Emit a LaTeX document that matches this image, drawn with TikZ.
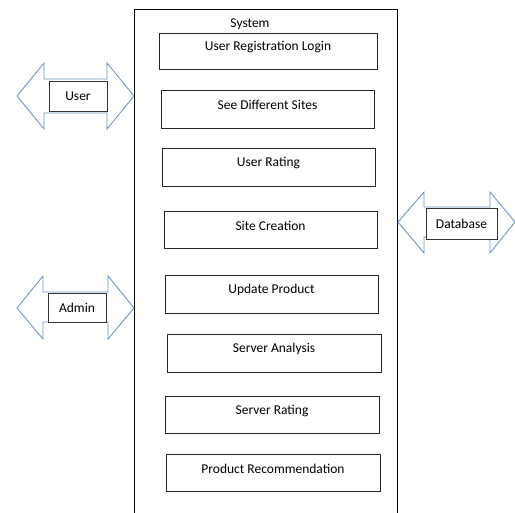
\documentclass[tikz,border=0pt]{standalone}
\usepackage{fontspec}
\setmainfont{Carlito}
\begin{document}
\begin{tikzpicture}[x=1pt,y=-1pt,
  usecase/.style={draw=black!85,line width=0.9pt,inner sep=0pt},
  actor/.style={draw=black!80,line width=0.9pt,fill=white,inner sep=0pt},
  dblarrow/.style={draw=arrowblue,line width=0.9pt,fill=white,line join=miter},
  lbl/.style={font=\fontsize{13.5}{15}\selectfont,text=black}]
\definecolor{arrowblue}{HTML}{7094C0}
\useasboundingbox (0,0) rectangle (515,513);
% system boundary (open at the bottom, runs off the page)
\draw[black,line width=0.9pt] (134,530) -- (134,9) -- (397,9) -- (397,530);
\node[lbl,anchor=base] (sys) at (250,28) {System};
% use cases
\newcommand{\ucase}[6]{%
  \node[usecase,minimum width=#4-#2,minimum height=#5-#3] (#1) at ({(#2+#4)/2},{(#3+#5)/2}) {};
  \node[lbl] at ([yshift=4]#1.center) {#6};}
\ucase{u1}{159}{33}{377}{69}{User Registration Login}
\ucase{u2}{161}{90}{374}{128}{See Different Sites}
\ucase{u3}{162}{148}{375}{186}{User Rating}
\ucase{u4}{164}{211}{377}{248}{Site Creation}
\ucase{u5}{165}{275}{378}{313}{Update Product}
\ucase{u6}{167}{334}{381}{372}{Server Analysis}
\ucase{u7}{165}{396}{379}{433}{Server Rating}
\ucase{u8}{166}{454}{380}{491}{Product Recommendation}
% User
\draw[dblarrow] (17,96) -- (44,63) -- (44,79) -- (107,79) -- (107,63) -- (134,96)
  -- (107,129) -- (107,113) -- (44,113) -- (44,129) -- cycle;
\node[actor,minimum width=58,minimum height=30] (user) at (78,96) {};
\node[lbl] at (user.center) {User};
% Admin
\draw[dblarrow] (17,308) -- (43,276) -- (43,292) -- (108,292) -- (108,276) -- (134,308)
  -- (108,339) -- (108,322) -- (43,322) -- (43,339) -- cycle;
\node[actor,minimum width=58,minimum height=29] (admin) at (77,307.5) {};
\node[lbl] at (admin.center) {Admin};
% Database
\draw[dblarrow] (398,222) -- (424,192) -- (424,207) -- (490,207) -- (490,192) -- (515,222)
  -- (490,253) -- (490,237) -- (424,237) -- (424,253) -- cycle;
\node[actor,minimum width=71,minimum height=31] (db) at (461.5,223.5) {};
\node[lbl] at (db.center) {Database};
\end{tikzpicture}
\end{document}
